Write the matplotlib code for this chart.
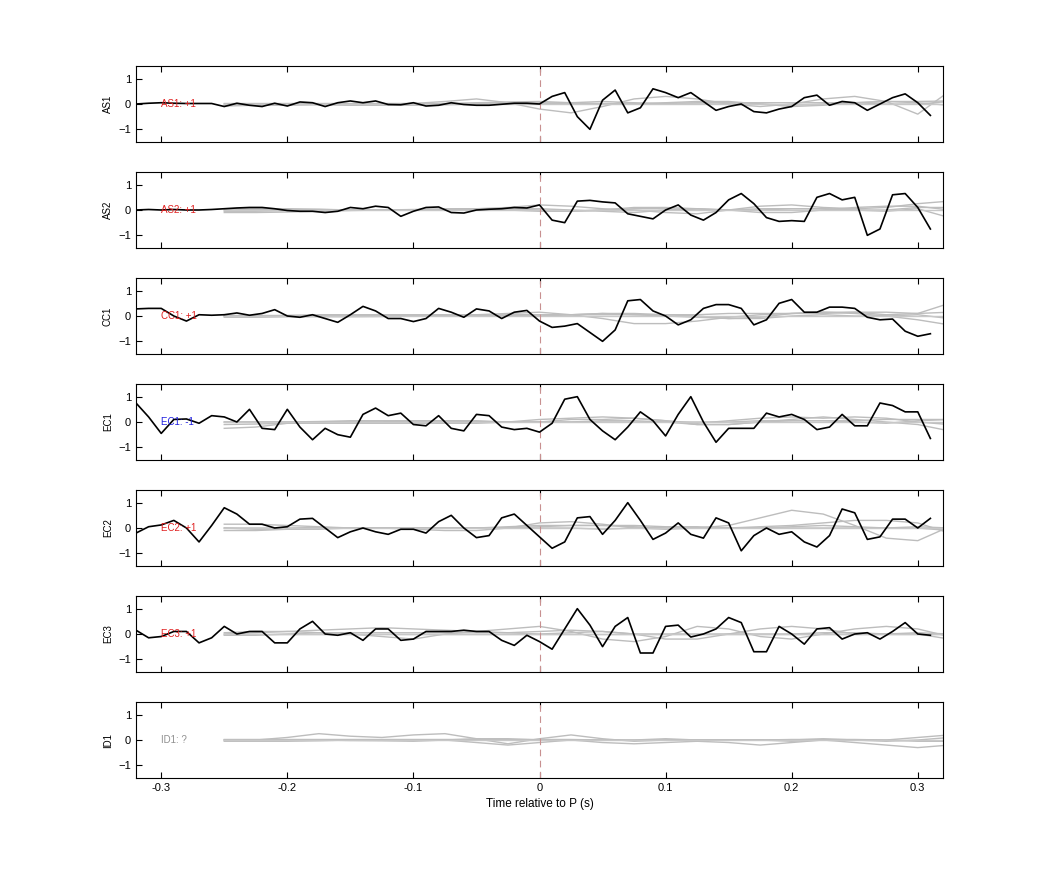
import numpy as np
import matplotlib
matplotlib.use("Agg")
import matplotlib.pyplot as plt

plt.rcParams['font.family'] = ['Liberation Sans', 'DejaVu Sans']

stations = ["AS1", "AS2", "CC1", "EC1", "EC2", "EC3", "ID1"]
polarity = ["+1", "+1", "+1", "-1", "+1", "+1", "?"]
label_colors = ["#e02020", "#e02020", "#e02020", "#2020e0", "#e02020", "#e02020", "#909090"]

t_black = np.round(np.arange(-0.32, 0.315, 0.01), 2)
black = {
    "AS1": [0, 0.03, 0.05, 0.03, 0.02, 0.02, 0.02, -0.1, 0.03, -0.05, -0.1, 0.03, -0.08, 0.08, 0.05, -0.1, 0.05,
            0.12, 0.05, 0.12, -0.02, -0.03, 0.05, -0.08, -0.05, 0.05, -0.02, -0.05, -0.05, -0.01, 0.03, 0.03, 0.0,
            0.3, 0.45, -0.5, -1.0, 0.15, 0.55, -0.35, -0.15, 0.6, 0.45, 0.25, 0.45, 0.1, -0.25, -0.1, 0.0, -0.3,
            -0.35, -0.2, -0.1, 0.25, 0.35, -0.05, 0.1, 0.05, -0.25, 0.0, 0.25, 0.4, 0.05, -0.45],
    "AS2": [0, 0.02, 0.0, 0.02, 0.0, 0.0, 0.02, 0.05, 0.08, 0.1, 0.1, 0.05, -0.02, -0.05, -0.05, -0.1, -0.05,
            0.1, 0.05, 0.15, 0.1, -0.25, -0.05, 0.1, 0.12, -0.1, -0.12, 0.0, 0.03, 0.05, 0.1, 0.08, 0.2,
            -0.4, -0.5, 0.35, 0.38, 0.32, 0.28, -0.15, -0.25, -0.35, 0.0, 0.2, -0.2, -0.4, -0.1, 0.4, 0.65, 0.25,
            -0.3, -0.45, -0.42, -0.45, 0.5, 0.65, 0.4, 0.5, -1.0, -0.75, 0.6, 0.65, 0.1, -0.75],
    "CC1": [0.28, 0.3, 0.3, 0.0, -0.2, 0.05, 0.03, 0.05, 0.12, 0.03, 0.1, 0.25, 0.0, -0.05, 0.05, -0.1, -0.25,
            0.05, 0.38, 0.2, -0.1, -0.1, -0.22, -0.1, 0.3, 0.15, -0.05, 0.28, 0.2, -0.1, 0.15, 0.22, -0.2,
            -0.45, -0.4, -0.3, -0.65, -1.0, -0.55, 0.6, 0.65, 0.2, 0.0, -0.35, -0.15, 0.3, 0.45, 0.45, 0.3, -0.35,
            -0.15, 0.5, 0.65, 0.15, 0.15, 0.35, 0.35, 0.3, -0.05, -0.15, -0.12, -0.6, -0.8, -0.7],
    "EC1": [0.75, 0.2, -0.45, 0.1, 0.12, -0.05, 0.25, 0.2, 0.0, 0.5, -0.25, -0.3, 0.5, -0.2, -0.7, -0.25, -0.5,
            -0.6, 0.3, 0.55, 0.25, 0.35, -0.1, -0.15, 0.25, -0.25, -0.35, 0.3, 0.25, -0.2, -0.3, -0.25, -0.4,
            -0.05, 0.9, 1.0, 0.1, -0.35, -0.7, -0.2, 0.4, 0.05, -0.55, 0.3, 1.0, 0.0, -0.8, -0.25, -0.25, -0.25,
            0.35, 0.2, 0.3, 0.1, -0.3, -0.2, 0.3, -0.15, -0.15, 0.75, 0.65, 0.4, 0.4, -0.65],
    "EC2": [-0.2, 0.05, 0.12, 0.3, 0.0, -0.55, 0.1, 0.8, 0.55, 0.15, 0.15, 0.0, 0.05, 0.35, 0.38, 0.0, -0.38,
            -0.15, 0.0, -0.15, -0.25, -0.05, -0.05, -0.2, 0.25, 0.5, 0.0, -0.38, -0.3, 0.4, 0.55, 0.1, -0.35,
            -0.8, -0.55, 0.4, 0.45, -0.25, 0.3, 1.0, 0.3, -0.45, -0.2, 0.2, -0.25, -0.4, 0.4, 0.2, -0.9, -0.3,
            0.0, -0.25, -0.15, -0.55, -0.75, -0.3, 0.75, 0.6, -0.45, -0.35, 0.35, 0.35, 0.0, 0.38],
    "EC3": [0.15, -0.15, -0.1, 0.1, 0.1, -0.35, -0.15, 0.3, 0.0, 0.1, 0.1, -0.35, -0.35, 0.2, 0.5, 0.0, -0.05,
            0.05, -0.25, 0.2, 0.2, -0.25, -0.2, 0.1, 0.1, 0.1, 0.15, 0.1, 0.1, -0.25, -0.45, -0.05, -0.3,
            -0.6, 0.2, 1.0, 0.35, -0.5, 0.3, 0.65, -0.75, -0.75, 0.3, 0.35, -0.12, 0.0, 0.2, 0.65, 0.45, -0.7,
            -0.7, 0.3, 0.0, -0.4, 0.2, 0.25, -0.2, 0.0, 0.05, -0.2, 0.1, 0.45, 0.0, -0.05],
}

t_gray = np.round(np.arange(-0.25, 0.3251, 0.025), 3)  # 24 samples
gray = {
    "AS1": [
        [0, 0, 0, 0, 0, 0, 0.02, 0.1, 0.2, 0.05, -0.2, -0.35, -0.1, 0.2, 0.3, 0.2, 0.0, -0.1, 0.0, 0.2, 0.3, 0.1, -0.4, 0.5],
        [-0.05, -0.05, -0.05, -0.03, -0.05, -0.05, -0.05, -0.03, 0.0, 0.0, 0.0, 0.05, 0.1, 0.05, 0.0, 0.0, 0.0, 0.0, -0.05, 0.0, 0.05, 0.0, 0.0, 0.1],
        [0.02, 0.02, 0.02, 0.02, 0.02, 0.02, 0.02, 0.02, 0.03, 0.05, 0.05, 0.03, 0.02, 0.02, 0.03, 0.05, 0.05, 0.05, 0.05, 0.05, 0.05, 0.1, 0.1, 0.12],
        [-0.08, -0.05, 0.0, 0.0, -0.02, 0.0, 0.0, 0.0, 0.05, 0.08, 0.1, 0.05, 0.0, 0.0, 0.05, 0.1, 0.1, 0.0, -0.1, -0.05, 0.05, 0.1, 0.05, -0.05],
    ],
    "AS2": [
        [-0.1, -0.1, -0.08, -0.05, -0.02, 0.0, 0.0, 0.02, 0.05, 0.1, 0.2, 0.15, 0.05, 0.0, -0.1, -0.15, 0.0, 0.15, 0.2, 0.1, 0.05, 0.1, 0.25, 0.35],
        [0.05, 0.05, 0.05, 0.03, 0.0, 0.0, 0.0, 0.0, 0.02, 0.05, 0.05, 0.0, -0.05, -0.1, 0.0, 0.05, 0.0, -0.1, -0.1, 0.0, 0.1, 0.15, 0.15, 0.0],
        [0.0, 0.02, 0.02, 0.02, 0.0, 0.0, 0.0, 0.02, 0.03, 0.05, 0.0, -0.05, 0.0, 0.05, 0.05, 0.0, 0.0, 0.05, 0.05, 0.05, 0.0, -0.05, 0.05, -0.3],
        [-0.05, -0.05, -0.02, 0.0, 0.0, 0.0, 0.02, 0.05, 0.05, 0.0, -0.05, -0.05, 0.0, 0.1, 0.1, 0.05, 0.0, 0.0, 0.05, 0.05, 0.0, 0.0, 0.1, 0.1],
    ],
    "CC1": [
        [0.0, 0.0, 0.02, 0.05, 0.05, 0.05, 0.05, 0.05, 0.05, 0.1, 0.15, 0.05, -0.1, -0.3, -0.3, -0.2, -0.05, 0.05, 0.1, 0.1, 0.15, 0.05, 0.1, 0.5],
        [0.0, 0.0, 0.0, 0.02, 0.0, 0.0, 0.0, 0.0, 0.02, 0.05, 0.05, 0.05, 0.1, 0.1, 0.05, 0.0, -0.1, -0.05, 0.1, 0.15, 0.1, 0.0, -0.15, -0.35],
        [-0.05, -0.05, -0.03, -0.03, -0.03, -0.02, 0.0, 0.0, 0.0, 0.0, 0.0, 0.05, 0.1, 0.05, 0.0, -0.05, -0.1, -0.1, 0.0, 0.05, 0.0, 0.0, 0.05, -0.1],
        [0.02, 0.02, 0.02, 0.02, 0.02, 0.02, 0.02, 0.02, 0.02, 0.02, 0.05, 0.05, 0.05, 0.05, 0.05, 0.05, 0.1, 0.1, 0.1, 0.15, 0.15, 0.15, 0.1, 0.15],
    ],
    "EC1": [
        [-0.25, -0.2, -0.05, 0.0, 0.0, 0.0, 0.05, 0.05, 0.05, 0.0, 0.1, 0.15, 0.2, 0.15, 0.05, -0.1, -0.1, 0.0, 0.1, 0.2, 0.1, 0.0, -0.1, -0.35],
        [0.0, 0.0, 0.0, 0.02, 0.05, 0.05, 0.05, 0.05, 0.02, 0.0, 0.0, 0.1, 0.1, 0.15, 0.05, -0.05, 0.05, 0.15, 0.2, 0.15, 0.2, 0.15, 0.0, -0.1],
        [-0.1, -0.08, -0.05, -0.05, -0.05, -0.05, -0.05, -0.05, -0.05, 0.0, 0.0, 0.0, 0.05, 0.05, 0.0, -0.1, -0.1, 0.0, 0.05, 0.05, 0.0, -0.05, 0.05, 0.1],
        [0.0, 0.0, 0.0, 0.0, 0.0, 0.0, 0.0, 0.0, 0.0, 0.0, 0.0, 0.0, 0.0, 0.0, 0.0, 0.0, 0.0, 0.05, 0.05, 0.05, 0.05, 0.1, 0.1, 0.1],
    ],
    "EC2": [
        [0.15, 0.15, 0.1, 0.05, 0.0, 0.0, -0.05, -0.1, -0.1, 0.0, 0.2, 0.25, 0.15, 0.0, -0.05, 0.0, 0.1, 0.4, 0.7, 0.55, 0.1, -0.4, -0.5, 0.05],
        [-0.1, -0.1, -0.05, 0.0, 0.0, 0.0, 0.0, 0.0, 0.0, 0.05, 0.1, 0.1, 0.1, 0.05, 0.0, 0.0, 0.0, 0.05, 0.1, 0.2, 0.3, 0.3, 0.2, -0.2],
        [0.0, 0.0, 0.0, 0.02, 0.0, 0.0, 0.0, 0.0, 0.0, 0.0, 0.05, 0.1, 0.1, 0.1, 0.05, 0.05, 0.0, 0.0, 0.05, 0.1, 0.05, 0.0, 0.05, 0.0],
        [0.0, -0.05, -0.05, -0.05, 0.0, 0.0, 0.0, 0.0, 0.0, 0.0, 0.0, 0.0, -0.05, 0.0, 0.0, 0.0, 0.0, 0.0, 0.0, 0.0, 0.0, 0.0, 0.0, -0.1],
    ],
    "EC3": [
        [0.05, 0.1, 0.1, 0.05, 0.0, -0.1, -0.2, 0.0, 0.1, 0.2, 0.3, 0.1, -0.2, -0.3, -0.1, 0.3, 0.2, -0.1, -0.2, 0.0, 0.2, 0.3, 0.2, -0.1],
        [0.0, 0.05, 0.1, 0.15, 0.2, 0.25, 0.2, 0.15, 0.1, 0.05, 0.0, 0.05, 0.1, 0.0, -0.2, -0.2, 0.0, 0.2, 0.3, 0.2, 0.0, 0.0, 0.05, 0.0],
        [-0.05, -0.05, 0.0, 0.05, 0.05, 0.05, 0.05, 0.05, 0.05, 0.05, 0.1, 0.15, 0.1, 0.0, 0.0, 0.0, 0.0, 0.0, 0.0, 0.05, 0.05, 0.0, 0.0, -0.2],
        [0.0, 0.0, 0.0, 0.0, 0.0, 0.0, 0.0, 0.0, 0.0, 0.0, 0.0, 0.0, 0.0, 0.0, 0.0, 0.0, 0.0, 0.0, 0.0, 0.0, 0.0, 0.0, 0.0, 0.0],
    ],
    "ID1": [
        [0.0, 0.0, 0.1, 0.25, 0.15, 0.1, 0.2, 0.25, 0.05, -0.15, 0.05, 0.2, 0.05, -0.05, 0.0, 0.0, 0.0, 0.0, -0.05, 0.0, 0.0, 0.0, 0.1, 0.2],
        [-0.05, -0.05, -0.05, -0.03, 0.0, 0.0, 0.0, 0.0, -0.1, -0.2, -0.1, 0.0, -0.1, -0.15, -0.1, -0.05, -0.1, -0.2, -0.1, 0.0, -0.1, -0.2, -0.3, -0.2],
        [0.0, 0.0, 0.0, 0.0, -0.02, -0.03, -0.05, 0.0, 0.05, 0.05, 0.0, 0.0, 0.0, 0.0, 0.05, 0.0, 0.0, 0.0, 0.0, 0.05, 0.0, -0.05, 0.0, 0.1],
        [0.02, 0.02, 0.02, 0.02, 0.02, 0.02, 0.02, 0.02, 0.02, 0.02, 0.02, 0.02, 0.0, 0.0, 0.0, 0.0, 0.0, 0.0, 0.02, 0.02, 0.02, 0.0, -0.05, -0.05],
    ],
}

fig = plt.figure(figsize=(10.42, 8.75), dpi=100)
left, width = 136 / 1042, (943 - 136) / 1042
h = 76 / 875
for i, st in enumerate(stations):
    top = 1 - (66 + 106 * i) / 875
    ax = fig.add_axes([left, top - h, width, h])
    for g in gray[st]:
        ax.plot(t_gray, g, color="#bdbdbd", lw=1.0, zorder=1)
    ax.axhline(0, color="#c8c8c8", lw=1.0, zorder=1, xmin=(-0.25 + 0.32) / 0.64)
    if st in black:
        ax.plot(t_black, black[st], color="black", lw=1.2, zorder=3)
    ax.axvline(0, color="#c89090", lw=0.8, ls=(0, (6, 4)), zorder=2)
    ax.text(-0.30, 0, f"{st}: {polarity[i]}", color=label_colors[i], fontsize=7, va="center", ha="left", zorder=4)
    ax.set_xlim(-0.32, 0.32)
    ax.set_ylim(-1.5, 1.5)
    ax.set_yticks([-1, 0, 1])
    ax.set_xticks([-0.3, -0.2, -0.1, 0, 0.1, 0.2, 0.3])
    ax.tick_params(direction="in", top=True, right=False, labelsize=8, length=4)
    ax.set_ylabel(st, fontsize=7)
    for s in ax.spines.values():
        s.set_linewidth(0.8)
    if i < len(stations) - 1:
        ax.set_xticklabels([])
    else:
        ax.set_xticklabels(["-0.3", "-0.2", "-0.1", "0", "0.1", "0.2", "0.3"])
        ax.set_xlabel("Time relative to P (s)", fontsize=8.5)

fig.savefig("out.png", dpi=100)
